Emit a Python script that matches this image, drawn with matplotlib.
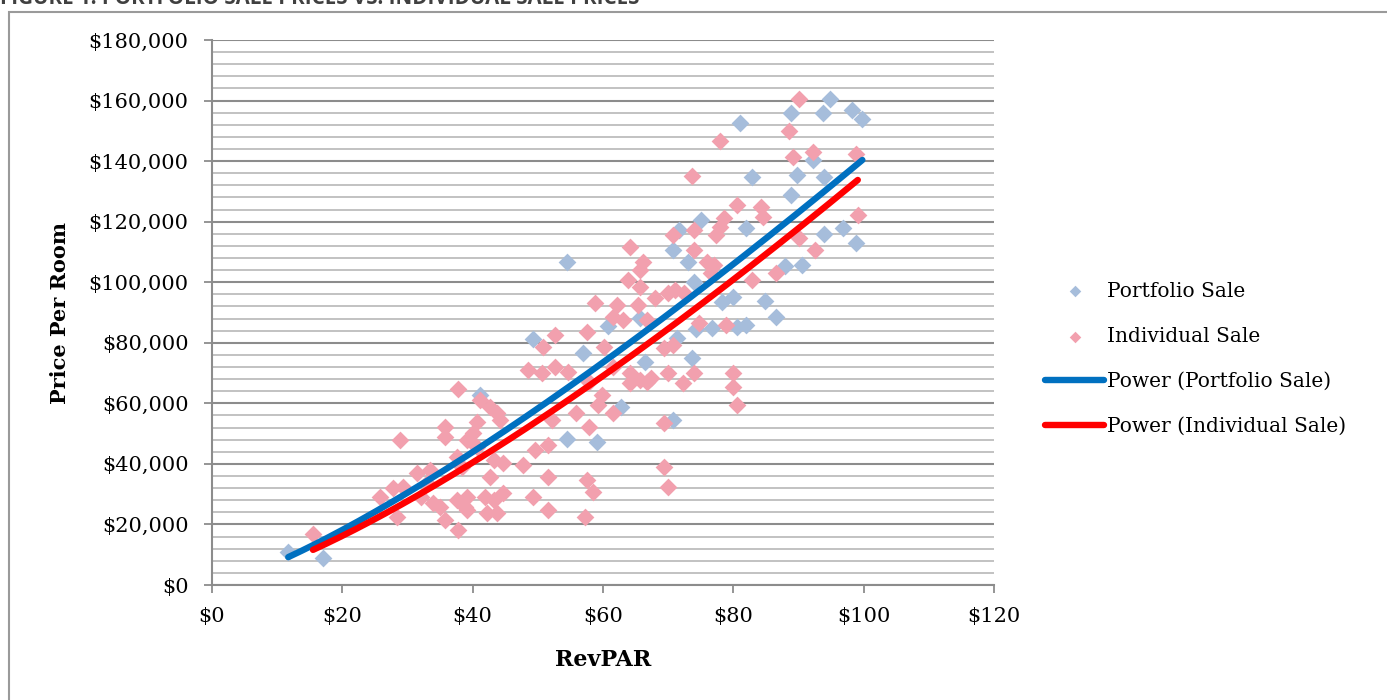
import matplotlib
matplotlib.use("Agg")
import matplotlib.pyplot as plt
import numpy as np
from matplotlib.ticker import MultipleLocator, FuncFormatter
from matplotlib.patches import Rectangle

# ---------------- data ----------------
portfolio_revpar = [11.7, 17.1, 41.2, 49.3, 54.5, 54.5, 59.1, 62.7, 57.0, 60.8, 65.7, 66.5,
                    70.8, 71.7, 73.0, 73.9, 75.1, 74.2, 71.4, 73.7, 70.8, 76.8, 78.3, 79.9,
                    80.6, 81.9, 81.0, 82.8, 81.9, 84.9, 86.5, 88.0, 88.9, 89.7, 88.9, 90.6,
                    92.3, 93.7, 94.8, 93.9, 93.9, 96.9, 98.8, 98.2, 99.8]
portfolio_price = [10900, 8900, 62700, 81200, 106700, 48200, 47200, 58800, 76600, 85500, 88200, 73600,
                   110600, 117200, 106700, 100100, 120500, 84500, 81600, 75000, 54500, 84900, 93500, 95100,
                   85200, 85900, 152600, 134700, 117900, 93800, 88500, 105300, 128800, 135400, 155900, 105700,
                   140400, 155900, 160500, 134700, 115900, 117900, 112900, 156900, 153900]

individual_revpar = [15.5, 25.8, 27.8, 28.4, 28.9, 31.5, 33.0, 32.0, 33.9, 35.0, 35.8, 37.8,
                     37.6, 39.2, 39.2, 35.8, 35.8, 37.8, 40.7, 41.2, 42.7, 43.8, 44.2, 43.2,
                     42.7, 44.7, 41.9, 43.2, 43.8, 42.2, 44.7, 39.2, 40.1, 40.7, 38.4, 37.6,
                     33.5, 29.3, 38.9,
                     52.2, 55.8, 57.8, 59.3, 59.9, 61.6, 49.6, 51.5, 47.8, 51.5, 49.2, 51.5,
                     57.6, 58.4, 57.3, 69.3, 69.3, 69.9, 64.2, 66.8, 48.5, 50.7, 52.7, 54.7,
                     50.8, 52.7, 57.6, 60.1, 58.8, 62.2, 65.3, 68.0, 69.9, 61.6, 63.1, 66.8,
                     64.2, 66.2, 65.7, 63.9, 65.7, 70.8, 73.9, 73.9, 73.6, 77.9, 80.6, 84.3,
                     84.5, 78.5, 78.0, 77.3, 77.0, 76.5, 76.0, 86.6, 82.9, 90.0, 92.6, 90.0,
                     88.6, 89.1, 92.3, 98.8, 99.1, 69.3, 70.7, 69.9, 64.2, 65.7, 67.3, 72.2,
                     74.7, 78.8, 80.0, 80.0, 80.6, 73.9, 61.6, 71.1, 72.4, 57.8]
individual_price = [16800, 29100, 32000, 22500, 47900, 37000, 33700, 29100, 27100, 25800, 21500, 18200,
                    28100, 29100, 24800, 52200, 48900, 64700, 53800, 61100, 58800, 56800, 54500, 41300,
                    35700, 40300, 29100, 28100, 23800, 23800, 30400, 47900, 50200, 45600, 39000, 42300,
                    38000, 32400, 25800,
                    54500, 56800, 52200, 59400, 62700, 56800, 44600, 46200, 39600, 35700, 29100, 24800,
                    34700, 30700, 22500, 53500, 39000, 32400, 66700, 67000, 71000, 70000, 72000, 70300,
                    78600, 82600, 83600, 78600, 93100, 92500, 92500, 94800, 96400, 88500, 87500, 87500,
                    111600, 106700, 104000, 100700, 98400, 115600, 117200, 110600, 135100, 146600, 125500, 124800,
                    121500, 121200, 118200, 115600, 105700, 103000, 106700, 103000, 100700, 114600, 110600, 160500,
                    149900, 141300, 143000, 142300, 122200, 78300, 79300, 70000, 70000, 67700, 68400, 66700,
                    86500, 85900, 70000, 65400, 59400, 70000, 72000, 97400, 96400, 67000]

# power trend-line coefficients (price = coef * revpar ** exponent)
portfolio_trend = (404.0, 1.271)
individual_trend = (313.0, 1.318)

series_names = ["Portfolio Sale", "Individual Sale",
                "Power (Portfolio Sale)", "Power (Individual Sale)"]
title_text = "FIGURE 1: PORTFOLIO SALE PRICES VS. INDIVIDUAL SALE PRICES"

# ---------------- style ----------------
plt.rcParams["font.family"] = ["DejaVu Serif"]
W, H = 1387, 700
fig = plt.figure(figsize=(W / 100, H / 100), dpi=100)

c_port = "#A6BDDB"
c_ind = "#F2A0AE"
c_port_line = "#0070C0"
c_ind_line = "#FF0000"
grid_major = "#8C8C8C"
grid_minor = "#BDBDBD"

# outer frame + clipped title (the reference cuts the title at the top edge)
fig.patches.append(Rectangle((9 / W, -0.2), 1.2, 1.2 - 12 / H, transform=fig.transFigure,
                             fill=False, edgecolor="#9A9A9A", linewidth=1.5))
fig.text(0.0, 1 - 4 / H, title_text, fontsize=14.8, fontweight="bold", family="Open Sans",
         color="#404040", ha="left", va="baseline")

ax = fig.add_axes([212 / W, 1 - 585 / H, (994 - 212) / W, (585 - 40) / H])

ax.scatter(portfolio_revpar, portfolio_price, marker="D", s=82, color=c_port,
           linewidths=0, zorder=3, label=series_names[0])
ax.scatter(individual_revpar, individual_price, marker="D", s=82, color=c_ind,
           linewidths=0, zorder=4, label=series_names[1])

xp = np.linspace(min(portfolio_revpar), max(portfolio_revpar), 300)
xi = np.linspace(min(individual_revpar), max(individual_revpar), 300)
ax.plot(xp, portfolio_trend[0] * xp ** portfolio_trend[1], color=c_port_line, lw=4.6,
        solid_capstyle="round", zorder=5, label=series_names[2])
ax.plot(xi, individual_trend[0] * xi ** individual_trend[1], color=c_ind_line, lw=4.6,
        solid_capstyle="round", zorder=6, label=series_names[3])

ax.set_xlim(0, 120)
ax.set_ylim(0, 180000)
ax.xaxis.set_major_locator(MultipleLocator(20))
ax.yaxis.set_major_locator(MultipleLocator(20000))
ax.yaxis.set_minor_locator(MultipleLocator(4000))
ax.xaxis.set_major_formatter(FuncFormatter(lambda v, p: f"${v:.0f}"))
ax.yaxis.set_major_formatter(FuncFormatter(lambda v, p: f"${v:,.0f}"))

ax.set_axisbelow(True)
ax.grid(which="major", axis="y", color=grid_major, lw=1.5)
ax.grid(which="minor", axis="y", color=grid_minor, lw=1.3)
for s in ["top", "right"]:
    ax.spines[s].set_visible(False)
for s in ["left", "bottom"]:
    ax.spines[s].set_color(grid_major)
    ax.spines[s].set_linewidth(1.5)
ax.tick_params(which="major", direction="out", length=6, width=1.3, color=grid_major,
               labelsize=15, labelcolor="black")
ax.tick_params(axis="y", which="major", pad=11)
ax.tick_params(axis="x", which="major", pad=10)
ax.tick_params(which="minor", length=0)

ax.set_ylabel("Price Per Room", fontsize=15, fontweight="bold")
ax.yaxis.set_label_coords((60 - 212) / (994 - 212), 0.5)
ax.yaxis.label.set_verticalalignment("center")
ax.set_xlabel("RevPAR", fontsize=16, fontweight="bold")
ax.xaxis.set_label_coords(0.5, -(660 - 585) / (585 - 40))
ax.xaxis.label.set_verticalalignment("center")

handles, labels = ax.get_legend_handles_labels()
fig.legend(handles, labels, loc="center left", bbox_to_anchor=(1045 / W, 1 - 359 / H),
           frameon=False, fontsize=14.5, handlelength=2.95, handletextpad=0.15,
           labelspacing=1.3, borderpad=0, borderaxespad=0, scatterpoints=1, markerscale=0.65)

fig.savefig("out.png", dpi=100)
